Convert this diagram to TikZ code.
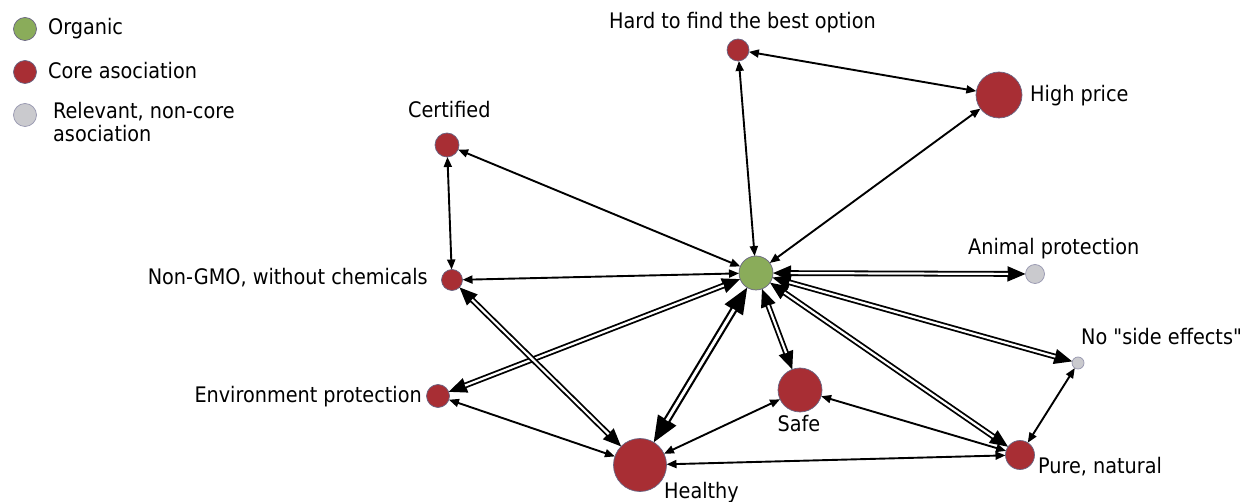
\documentclass[tikz,border=0pt]{standalone}
\usepackage{fontspec}
\newfontfamily\labelfont{DejaVu Sans Condensed}
\usetikzlibrary{arrows.meta}
\definecolor{orggreen}{RGB}{138,172,90}
\definecolor{corered}{RGB}{168,46,52}
\definecolor{relgrey}{RGB}{202,202,206}
\definecolor{rim}{RGB}{105,100,130}
\definecolor{greyrim}{RGB}{150,150,175}
\begin{document}
\begin{tikzpicture}[x=1pt,y=-1pt,
  bubble/.style={circle, inner sep=0pt, outer sep=0pt, draw=rim, line width=0.7pt, minimum size=#1},
  organic/.style={bubble=#1, fill=orggreen},
  core/.style={bubble=#1, fill=corered},
  relevant/.style={bubble=#1, fill=relgrey, draw=greyrim},
  lbl/.style={font=\labelfont\fontsize{21.4}{25}\selectfont, inner sep=0pt, text=black},
  link/.style={line width=1.9pt, {Triangle[length=10pt,width=8pt]}-{Triangle[length=10pt,width=8pt]}},
  heavytips/.style={line width=1.8pt, {Triangle[length=18pt,width=15pt]}-{Triangle[length=18pt,width=15pt]}},
  heavyshaft/.style={line width=1.8pt, double=white, double distance=2.2pt, shorten <=17.5pt, shorten >=17.5pt},
  hugetips/.style={line width=2.2pt, {Triangle[length=26pt,width=21pt]}-{Triangle[length=26pt,width=21pt]}},
  hugeshaft/.style={line width=2.2pt, double=white, double distance=3pt, shorten <=25.5pt, shorten >=25.5pt},
]
\path[use as bounding box] (0,0) rectangle (1251,502);

% legend
\node[organic=23pt] (keyorg) at (25,29) {};
\node[lbl, anchor=base west] (keyorglbl) at (48,35) {Organic};
\node[core=23pt] (keycore) at (25,72) {};
\node[lbl, anchor=base west] (keycorelbl) at (48,79) {Core asociation};
\node[relevant=23pt] (keyrel) at (25,115) {};
\node[lbl, anchor=base west] (keyrellbl) at (53,119) {Relevant, non-core};
\node[lbl, anchor=base west] (keyrellbltwo) at (53,142) {asociation};

% association nodes
\node[organic=34pt] (org) at (756,273) {};
\node[core=22pt] (hard) at (738,50) {};
\node[core=46pt] (high) at (999,95) {};
\node[core=24pt] (cert) at (447,145) {};
\node[core=21pt] (gmo) at (452,280) {};
\node[relevant=19pt] (animal) at (1035,274) {};
\node[relevant=12pt] (nose) at (1078,363) {};
\node[core=23pt] (env) at (438,396) {};
\node[core=44pt] (safe) at (800,390) {};
\node[core=53pt] (healthy) at (640,465) {};
\node[core=29pt] (pure) at (1020,455) {};

% labels
\node[lbl, anchor=base west] (hardlbl) at (609,29) {Hard to find the best option};
\node[lbl, anchor=base west] (highlbl) at (1030,102) {High price};
\node[lbl, anchor=base west] (certlbl) at (408,118) {Certified};
\node[lbl, anchor=base east] (gmolbl) at (428,285) {Non-GMO, without chemicals};
\node[lbl, anchor=base west] (animallbl) at (968,255) {Animal protection};
\node[lbl, anchor=base west] (noselbl) at (1081,345) {No "side effects"};
\node[lbl, anchor=base west] (purelbl) at (1038,474) {Pure, natural};
\node[lbl, anchor=base east] (envlbl) at (422,403) {Environment protection};
\node[lbl, anchor=base] (safelbl) at (799,432) {Safe};
\node[lbl, anchor=base west] (healthylbl) at (664,498) {Healthy};

% single links
\draw[link] (hard) -- (high);
\draw[link] (hard) -- (org);
\draw[link] (high) -- (org);
\draw[link] (cert) -- (org);
\draw[link] (cert) -- (gmo);
\draw[link] (gmo) -- (org);
\draw[link] (env) -- (healthy);
\draw[link] (healthy) -- (safe);
\draw[link] (healthy) -- (pure);
\draw[link] (safe) -- (pure);
\draw[link] (nose) -- (pure);

% strong links: black line with heads, then hollow double shaft over it
\foreach \a/\b in {org/animal, org/nose, org/pure, org/safe, org/env, gmo/healthy} {
  \draw[heavytips] (\a) -- (\b);
  \draw[heavyshaft] (\a) -- (\b);
}
\draw[hugetips] (org) -- (healthy);
\draw[hugeshaft] (org) -- (healthy);
\end{tikzpicture}
\end{document}
